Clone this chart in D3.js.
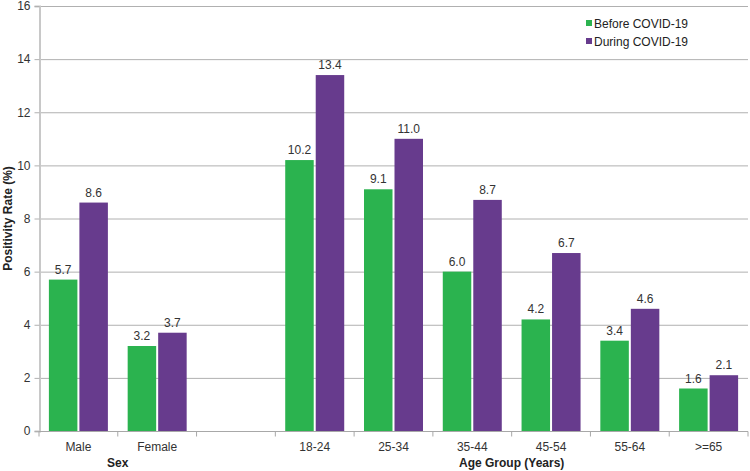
<!DOCTYPE html>
<html><head><meta charset="utf-8">
<script src="https://cdn.jsdelivr.net/npm/d3@7"></script>
<style>body{margin:0;background:#fff}svg{display:block;font-family:"Liberation Sans",Arial,sans-serif}</style>
</head><body><svg id="c" width="750" height="471"></svg>
<script>
const categories = ["Male","Female","","18-24","25-34","35-44","45-54","55-64",">=65"];
const before = [5.7,3.2,null,10.2,9.1,6.0,4.2,3.4,1.6];
const during = [8.6,3.7,null,13.4,11.0,8.7,6.7,4.6,2.1];
const seriesNames = ["Before COVID-19","During COVID-19"];
const yTicks = [0,2,4,6,8,10,12,14,16];
const groupTitles = [{label:"Sex", from:"Male", to:"Female"},{label:"Age Group (Years)", from:"18-24", to:">=65"}];
const colors = ["#2bb34f","#673b8d"];

const svg = d3.select("#c");
const L = 39, R = 748, T = 6, B = 431;
const x = d3.scaleBand().domain(categories).range([L,R]).paddingInner(0).paddingOuter(0);
const y = d3.scaleLinear().domain([0,16]).range([B,T]);
const barW = 28.5, gap = 2;

// gridlines
svg.append("g").selectAll("line").data(yTicks.filter(d=>d>0)).join("line")
  .attr("x1",L).attr("x2",R).attr("y1",d=>y(d)+0.5).attr("y2",d=>y(d)+0.5)
  .attr("stroke","#b0b0b0").attr("stroke-width",1);

// y axis
const yAxis = svg.append("g").attr("transform",`translate(${L+0.5},0)`)
  .call(d3.axisLeft(y).tickValues(yTicks).tickSize(5).tickPadding(4).tickFormat(d3.format("d")));
yAxis.select(".domain").attr("stroke","#c8c8c8").attr("stroke-width",2);
yAxis.selectAll(".tick line").attr("stroke","#b0b0b0");
yAxis.selectAll("text").attr("fill","#333").style("font-size","12px");

// bars
const series = [before, during];
series.forEach((vals,si)=>{
  const g = svg.append("g");
  const data = categories.map((c,i)=>({c, v: vals[i]})).filter(d=>d.v!=null);
  const cx = d => x(d.c) + x.bandwidth()/2 + (si===0 ? -(barW+gap/2) : gap/2);
  g.selectAll("rect").data(data).join("rect")
    .attr("x",cx).attr("width",barW)
    .attr("y",d=>y(d.v)).attr("height",d=>B-y(d.v))
    .attr("fill",colors[si]);
  g.selectAll("text").data(data).join("text")
    .attr("x",d=>cx(d)+barW/2).attr("y",d=>y(d.v)-6)
    .attr("text-anchor","middle").attr("fill","#333").style("font-size","12px")
    .text(d=>d3.format(".1f")(d.v));
});

// x axis
const xAxisG = svg.append("g").attr("transform",`translate(0,${B+0.5})`);
xAxisG.append("line").attr("x1",L).attr("x2",R).attr("stroke","#a8a8a8");
const tickPos = categories.map(c=>x(c)).concat([R]);
xAxisG.selectAll("line.t").data(tickPos).join("line").attr("class","t")
  .attr("x1",d=>d).attr("x2",d=>d).attr("y1",0).attr("y2",5).attr("stroke","#a8a8a8");
xAxisG.selectAll("text").data(categories.filter(c=>c!=="")).join("text")
  .attr("x",d=>x(d)+x.bandwidth()/2).attr("y",19)
  .attr("text-anchor","middle").attr("fill","#333").style("font-size","12px").text(d=>d);

// group titles
svg.selectAll("text.gt").data(groupTitles).join("text").attr("class","gt")
  .attr("x",d=>(x(d.from)+x(d.to)+x.bandwidth())/2).attr("y",467)
  .attr("text-anchor","middle").attr("font-weight","bold").attr("fill","#222").style("font-size","12px")
  .text(d=>d.label);

// y title
svg.append("text").attr("transform",`translate(12,${(T+B)/2}) rotate(-90)`)
  .attr("text-anchor","middle").attr("font-weight","bold").attr("fill","#222").style("font-size","12px")
  .text("Positivity Rate (%)");

// legend
const lg = svg.append("g").attr("transform","translate(586,24)");
seriesNames.forEach((n,i)=>{
  lg.append("rect").attr("x",0).attr("y",i*18-4).attr("width",6).attr("height",6).attr("fill",colors[i]);
  lg.append("text").attr("x",8).attr("y",i*18).attr("dy","0.35em").attr("fill","#222").style("font-size","12px").text(n);
});
</script></body></html>
